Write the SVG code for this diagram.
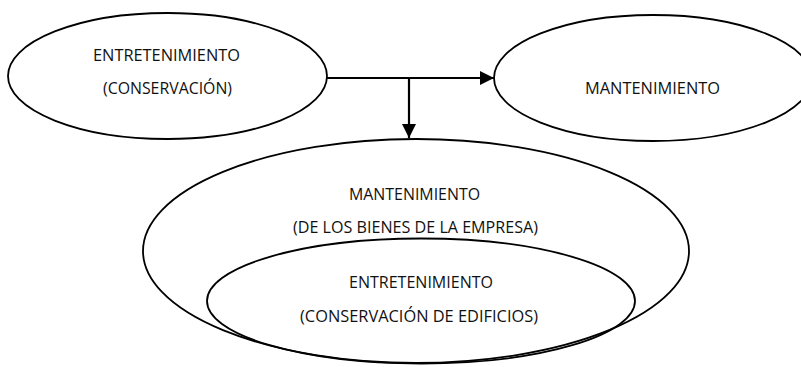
<svg xmlns="http://www.w3.org/2000/svg" width="801" height="367" viewBox="0 0 801 367">
<defs>
<style>
.e{fill:none;stroke:#000;stroke-width:1.8}
.t{font-family:"Open Sans","Liberation Sans",Arial,sans-serif;font-size:16px;fill:#111;text-anchor:middle}
.c{stroke:#000;stroke-width:2.2;fill:none}
</style>
<marker id="ah" viewBox="0 0 10 10" refX="10" refY="5" markerWidth="15" markerHeight="14" markerUnits="userSpaceOnUse" orient="auto">
<path d="M0,0 L10,5 L0,10 Z" fill="#000"/>
</marker>
</defs>
<rect width="801" height="367" fill="#fff"/>
<g id="n-entretenimiento">
<ellipse class="e" cx="167.5" cy="76" rx="159.5" ry="63"/>
<text class="t" x="166.5" y="61" textLength="147" lengthAdjust="spacingAndGlyphs">ENTRETENIMIENTO</text>
<text class="t" x="167.5" y="94" textLength="129" lengthAdjust="spacingAndGlyphs">(CONSERVACIÓN)</text>
</g>
<g id="n-mantenimiento">
<ellipse class="e" cx="653" cy="78" rx="159" ry="63"/>
<text class="t" x="652.5" y="94" textLength="135" lengthAdjust="spacingAndGlyphs">MANTENIMIENTO</text>
</g>
<g id="n-mantenimiento-bienes">
<ellipse class="e" cx="416" cy="251" rx="273" ry="112"/>
<text class="t" x="414.5" y="200" textLength="131" lengthAdjust="spacingAndGlyphs">MANTENIMIENTO</text>
<text class="t" x="415.5" y="233" textLength="245" lengthAdjust="spacingAndGlyphs">(DE LOS BIENES DE LA EMPRESA)</text>
</g>
<g id="n-entretenimiento-edificios">
<ellipse class="e" cx="421" cy="301" rx="214" ry="62.5"/>
<text class="t" x="421" y="288" textLength="144" lengthAdjust="spacingAndGlyphs">ENTRETENIMIENTO</text>
<text class="t" x="419" y="322" textLength="238" lengthAdjust="spacingAndGlyphs">(CONSERVACIÓN DE EDIFICIOS)</text>
</g>
<g id="connectors">
<line class="c" x1="327" y1="78" x2="494" y2="78" marker-end="url(#ah)"/>
<line class="c" x1="409" y1="78" x2="409" y2="138" marker-end="url(#ah)"/>
</g>
</svg>
